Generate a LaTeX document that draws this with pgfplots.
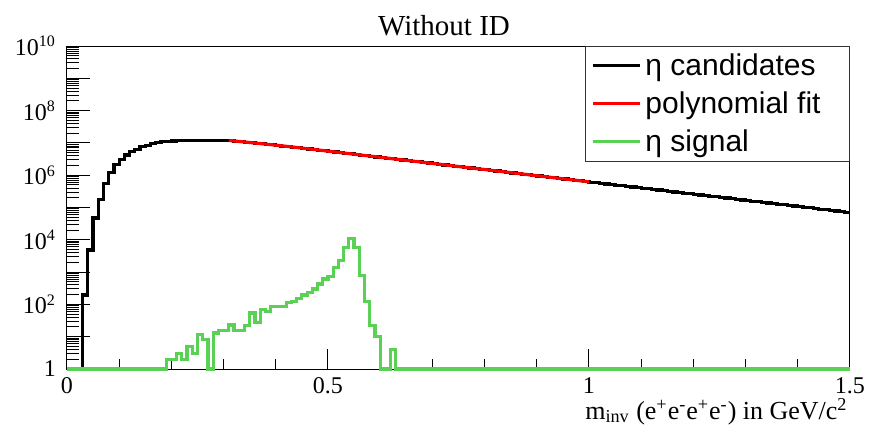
\documentclass[border=0pt]{standalone}
\usepackage{fontspec}
\setmainfont{Liberation Serif}
\newfontfamily\legendfont{Liberation Sans}
\usepackage{pgfplots}
\pgfplotsset{compat=1.18}
\definecolor{rootgreen}{RGB}{89,209,84}
\definecolor{rootred}{RGB}{255,0,0}
\begin{document}
\begin{tikzpicture}
\path[use as bounding box] (-33.5pt,-30.5pt) rectangle (401pt,184.5pt);
\begin{axis}[
  at={(0,0)}, anchor=south west,
  scale only axis, width=391.5pt, height=161.5pt,
  xmin=0, xmax=1.5, ymin=1, ymax=1e10,
  ymode=log, clip=false,
  axis line style={line width=0.5pt, black},
  tick pos=left, tick align=inside,
  xtick={0,0.5,1,1.5}, xticklabels={0,0.5,1,1.5},
  minor xtick={0.1,0.2,0.3,0.4,0.6,0.7,0.8,0.9,1.1,1.2,1.3,1.4},
  ytick={1,1e1,1e2,1e3,1e4,1e5,1e6,1e7,1e8,1e9,1e10},
  yticklabels={1,,10\textsuperscript{2},,10\textsuperscript{4},,10\textsuperscript{6},,10\textsuperscript{8},,10\textsuperscript{10}},
  minor ytick={2,3,4,5,6,7,8,9,20,30,40,50,60,70,80,90,200,300,400,500,600,700,800,900,
    2e3,3e3,4e3,5e3,6e3,7e3,8e3,9e3,2e4,3e4,4e4,5e4,6e4,7e4,8e4,9e4,
    2e5,3e5,4e5,5e5,6e5,7e5,8e5,9e5,2e6,3e6,4e6,5e6,6e6,7e6,8e6,9e6,
    2e7,3e7,4e7,5e7,6e7,7e7,8e7,9e7,2e8,3e8,4e8,5e8,6e8,7e8,8e8,9e8,
    2e9,3e9,4e9,5e9,6e9,7e9,8e9,9e9},
  xtick style={line width=0.5pt, black, /pgfplots/major tick length=10pt, /pgfplots/minor tick length=5pt},
  ytick style={line width=0.5pt, black, /pgfplots/major tick length=11.5pt, /pgfplots/minor tick length=5.8pt},
  ticklabel style={font=\fontsize{12}{14}\selectfont},
  xticklabel style={inner sep=0.5pt, yshift=-3.5pt},
  yticklabel style={xshift=-2pt},
  xlabel={m\textsubscript{inv} (e\textsuperscript{+}e\textsuperscript{-}e\textsuperscript{+}e\textsuperscript{-}) in GeV/c\textsuperscript{2}},
  xlabel style={at={(rel axis cs:1,0)}, anchor=base east, yshift=-25pt, xshift=-1pt, font=\fontsize{13}{15}\selectfont, inner sep=0pt},
  legend style={at={(rel axis cs:1,1)}, anchor=north east, draw=black!80, line width=0.5pt,
    fill=white, inner xsep=3pt, inner ysep=1.5pt, row sep=2.6pt,
    font=\legendfont\fontsize{15}{17}\selectfont, cells={anchor=west}},
  legend image code/.code={\draw[#1] (0pt,0pt) -- (23.5pt,0pt);},
]
\addplot[const plot mark left, black, line width=1.6pt] coordinates {
(0.03,1) (0.03,195) (0.04,4800) (0.05,4.7e4) (0.06,1.8e5) (0.07,5.4e5) (0.08,1.2e6) (0.09,2.1e6)
(0.10,3.0e6) (0.11,4.2e6) (0.12,5.4e6) (0.13,6.3e6) (0.14,7.6e6) (0.15,8.5e6) (0.16,9.8e6)
(0.17,1.02e7) (0.18,1.10e7) (0.19,1.12e7) (0.20,1.15e7) (0.21,1.17e7) (0.22,1.19e7) (0.23,1.2e7)
(0.24,1.21e7) (0.25,1.22e7) (0.26,1.22e7) (0.27,1.22e7) (0.28,1.21e7) (0.29,1.2e7) (0.30,1.19e7)
(0.31,1.175e7) (0.32,1.135e7) (0.33,1.096e7) (0.34,1.047e7) (0.35,1.012e7) (0.36,9.77e6)
(0.37,9.33e6) (0.38,9.02e6) (0.39,8.71e6) (0.40,8.32e6) (0.41,7.94e6) (0.42,7.67e6) (0.43,7.33e6)
(0.44,7.08e6) (0.45,6.76e6) (0.46,6.46e6) (0.47,6.17e6) (0.48,5.96e6) (0.49,5.69e6)
(0.50,5.445e6) (0.51,5.212e6) (0.52,4.989e6) (0.53,4.775e6) (0.54,4.571e6) (0.55,4.375e6)
(0.56,4.188e6) (0.57,4.009e6) (0.58,3.837e6) (0.59,3.673e6) (0.60,3.516e6) (0.61,3.365e6)
(0.62,3.221e6) (0.63,3.083e6) (0.64,2.951e6) (0.65,2.825e6) (0.66,2.704e6) (0.67,2.588e6)
(0.68,2.477e6) (0.69,2.371e6) (0.70,2.270e6) (0.71,2.173e6) (0.72,2.080e6) (0.73,1.991e6)
(0.74,1.905e6) (0.75,1.824e6) (0.76,1.746e6) (0.77,1.671e6) (0.78,1.600e6) (0.79,1.531e6)
(0.80,1.466e6) (0.81,1.403e6) (0.82,1.343e6) (0.83,1.285e6) (0.84,1.230e6) (0.85,1.178e6)
(0.86,1.127e6) (0.87,1.079e6) (0.88,1.033e6) (0.89,9.888e5) (0.90,9.464e5) (0.91,9.059e5)
(0.92,8.671e5) (0.93,8.300e5) (0.94,7.945e5) (0.95,7.605e5) (0.96,7.279e5) (0.97,6.968e5)
(0.98,6.669e5) (0.99,6.384e5) (1.00,6.111e5) (1.01,5.849e5) (1.02,5.599e5) (1.03,5.359e5)
(1.04,5.130e5) (1.05,4.910e5) (1.06,4.700e5) (1.07,4.499e5) (1.08,4.306e5) (1.09,4.122e5)
(1.10,3.946e5) (1.11,3.777e5) (1.12,3.615e5) (1.13,3.460e5) (1.14,3.312e5) (1.15,3.170e5)
(1.16,3.035e5) (1.17,2.905e5) (1.18,2.780e5) (1.19,2.661e5) (1.20,2.547e5) (1.21,2.438e5)
(1.22,2.334e5) (1.23,2.234e5) (1.24,2.138e5) (1.25,2.047e5) (1.26,1.959e5) (1.27,1.875e5)
(1.28,1.795e5) (1.29,1.718e5) (1.30,1.645e5) (1.31,1.574e5) (1.32,1.507e5) (1.33,1.442e5)
(1.34,1.381e5) (1.35,1.321e5) (1.36,1.265e5) (1.37,1.211e5) (1.38,1.159e5) (1.39,1.109e5)
(1.40,1.062e5) (1.41,1.016e5) (1.42,9.727e4) (1.43,9.311e4) (1.44,8.912e4) (1.45,8.530e4)
(1.46,8.165e4) (1.47,7.816e4) (1.48,7.481e4) (1.49,7.161e4) (1.50,7.161e4)
};
\addlegendentry{\makebox[97pt][l]{η candidates}}
\addplot[rootred, line width=1.6pt] coordinates {
(0.31,1.19e7) (0.35,1.03e7) (0.40,8.51e6) (0.45,6.92e6) (0.50,5.56e6) (0.55,4.47e6)
(0.60,3.59e6) (0.65,2.88e6) (0.70,2.32e6) (0.75,1.86e6) (0.80,1.50e6) (0.85,1.20e6)
(0.90,9.66e5) (0.95,7.76e5) (1.00,6.24e5)
};
\addlegendentry{polynomial fit}
\addplot[const plot mark left, rootgreen, line width=1.6pt] coordinates {
(0,1) (0.19,2) (0.20,2) (0.21,3) (0.22,2) (0.23,5) (0.24,3) (0.25,12) (0.26,8) (0.27,1)
(0.28,13) (0.29,16) (0.30,16) (0.31,23) (0.32,16) (0.33,16) (0.34,22) (0.35,54) (0.36,28)
(0.37,69) (0.38,60) (0.39,87) (0.40,86) (0.41,87) (0.42,116) (0.43,121) (0.44,154) (0.45,195)
(0.46,237) (0.47,300) (0.48,427) (0.49,611) (0.50,730) (0.51,1350) (0.52,2250) (0.53,5800)
(0.54,11000) (0.55,5800) (0.56,780) (0.57,121) (0.58,22) (0.59,10) (0.60,1) (0.61,1) (0.62,4)
(0.63,1) (1.5,1)
};
\addlegendentry{η signal}
\end{axis}
\node[anchor=base, font=\fontsize{14.5}{17}\selectfont] at (188.5pt,167pt) {Without ID};
\end{tikzpicture}
\end{document}
